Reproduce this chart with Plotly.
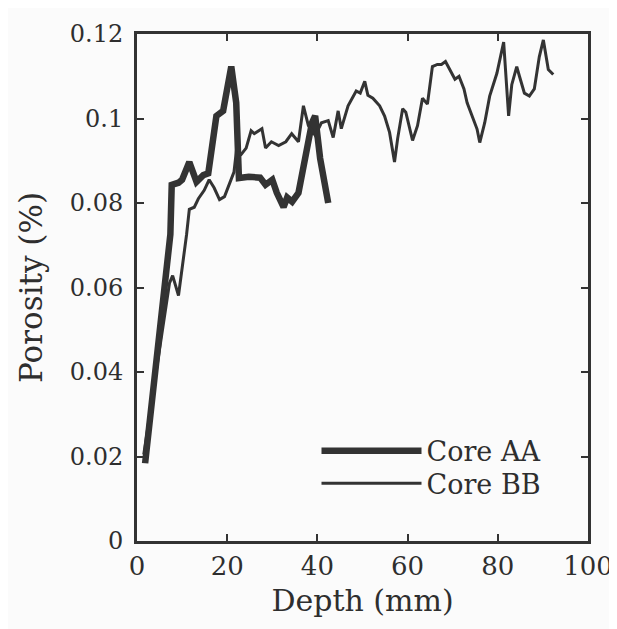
import plotly.graph_objects as go

# Core AA (thick line)
aa_depth = [1.8, 5.1, 7.4, 7.7, 9.2, 10.0, 11.6, 13.2, 14.7, 15.8, 17.6, 19.1, 20.9, 22.0, 22.6,
            24.8, 27.3, 28.5, 30.0, 31.0, 32.5, 33.3, 34.4, 35.8, 37.6, 38.8, 39.5, 40.6, 42.4]
aa_poro = [0.0184, 0.0516, 0.0726, 0.0843, 0.0848, 0.0855, 0.0897, 0.0850, 0.0866, 0.0870, 0.1006,
           0.1018, 0.1123, 0.1037, 0.0859, 0.0862, 0.0860, 0.0843, 0.0855, 0.0824, 0.0790, 0.0813,
           0.0803, 0.0824, 0.0930, 0.0990, 0.1006, 0.0906, 0.0800]

# Core BB (thin line)
bb_depth = [1.5, 7.2, 7.9, 9.2, 11.0, 11.6, 12.7, 13.6, 14.9, 16.0, 17.1, 18.3, 19.4, 20.4, 21.5,
            22.0, 23.1, 24.2, 25.3, 26.0, 27.7, 28.5, 29.8, 31.4, 33.0, 34.3, 35.8, 36.9, 38.0,
            39.5, 40.9, 42.4, 43.5, 44.6, 45.3, 46.8, 48.6, 49.5, 50.5, 51.2, 52.3, 53.8, 54.9,
            56.0, 57.1, 57.8, 58.9, 59.6, 61.1, 62.2, 63.3, 64.4, 65.5, 66.6, 67.5, 68.4, 69.5,
            70.5, 71.4, 72.5, 73.2, 74.3, 75.4, 76.0, 77.1, 78.2, 79.8, 81.3, 82.4, 83.1, 84.2,
            84.8, 85.9, 87.0, 88.1, 89.2, 90.1, 91.2, 92.3]
bb_poro = [0.0205, 0.0610, 0.0628, 0.0581, 0.0726, 0.0785, 0.0790, 0.0810, 0.0830, 0.0855, 0.0836,
           0.0808, 0.0815, 0.0843, 0.0873, 0.0920, 0.0915, 0.0930, 0.0971, 0.0964, 0.0976, 0.0930,
           0.0945, 0.0936, 0.0945, 0.0964, 0.0945, 0.1030, 0.0983, 0.0960, 0.0990, 0.0995, 0.0955,
           0.1018, 0.0976, 0.1030, 0.1065, 0.1060, 0.1088, 0.1055, 0.1048, 0.1030, 0.1006, 0.0967,
           0.0897, 0.0953, 0.1023, 0.1015, 0.0948, 0.0983, 0.1048, 0.1034, 0.1123, 0.1128, 0.1128,
           0.1135, 0.1111, 0.1093, 0.1100, 0.1070, 0.1037, 0.1006, 0.0975, 0.0943, 0.0990, 0.1053,
           0.1107, 0.1181, 0.1006, 0.1080, 0.1123, 0.1100, 0.1060, 0.1053, 0.1070, 0.1146, 0.1186,
           0.1116, 0.1104]

x_ticks = [0, 20, 40, 60, 80, 100]
y_ticks = [0, 0.02, 0.04, 0.06, 0.08, 0.1, 0.12]
y_tick_labels = ["0", "0.02", "0.04", "0.06", "0.08", "0.1", "0.12"]

ink = "#333333"
font_family = "DejaVu Serif"

fig = go.Figure()
fig.add_trace(go.Scatter(x=aa_depth, y=aa_poro, mode="lines", name="Core AA",
                         line=dict(color=ink, width=6.5), legend="legend"))
fig.add_trace(go.Scatter(x=bb_depth, y=bb_poro, mode="lines", name="Core BB",
                         line=dict(color=ink, width=3), legend="legend2"))

legend_style = dict(xanchor="left", yanchor="middle", bgcolor="rgba(0,0,0,0)", borderwidth=0,
                    font=dict(family=font_family, size=27, color="#2e2e2e"), itemwidth=100)

fig.update_layout(
    width=617, height=629,
    margin=dict(l=129, r=33, t=19, b=96),
    paper_bgcolor="#fbfbfb", plot_bgcolor="#fbfbfb",
    font=dict(family=font_family, color="#2e2e2e", size=24),
    showlegend=True,
    legend=dict(x=0.398, y=0.177, **legend_style),
    legend2=dict(x=0.398, y=0.113, **legend_style),
)
fig.update_xaxes(range=[0, 100], tickvals=x_ticks, ticks="inside", ticklen=7, tickwidth=1.5,
                 tickcolor=ink, showline=True, linecolor=ink, linewidth=3, mirror="ticks",
                 showgrid=False, zeroline=False,
                 tickfont=dict(size=26),
                 title=dict(text="Depth (mm)", font=dict(size=30), standoff=10))
fig.update_yaxes(range=[0, 0.12], tickvals=y_ticks, ticktext=y_tick_labels, ticks="inside",
                 ticklen=7, tickwidth=1.5, tickcolor=ink, showline=True, linecolor=ink,
                 linewidth=3, mirror="ticks", showgrid=False, zeroline=False,
                 ticklabelstandoff=6, tickfont=dict(size=24),
                 title=dict(text="Porosity (%)", font=dict(size=31), standoff=18))

fig.write_html("out.html")
